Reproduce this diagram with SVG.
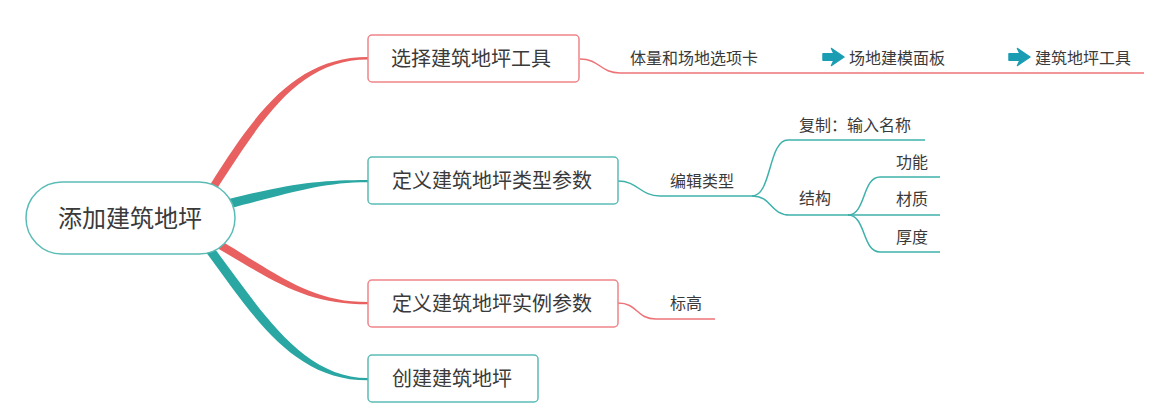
<svg xmlns="http://www.w3.org/2000/svg" width="1154" height="416" viewBox="0 0 1154 416">
<defs>
<style>
.t{font-family:"Noto Sans CJK SC","Noto Sans",sans-serif;fill:#3a3a3a;}
.nt{font-size:20px;text-anchor:middle;}
.st{font-size:16px;}
.rb{fill:#e8605f;}
.tb{fill:#2aa7a3;}
.rl{fill:none;stroke:#ee7378;stroke-width:1.5;}
.tl{fill:none;stroke:#3fb1ab;stroke-width:1.5;}
.rn{fill:#fff;stroke:#ef8489;stroke-width:1.5;}
.tn{fill:#fff;stroke:#5bbcb6;stroke-width:1.5;}
.ar{fill:#1a9db3;stroke:#1a9db3;stroke-width:1.5;stroke-linejoin:round;}
</style>
<path id="arrow" class="ar" d="M 0 -3.2 L 11 -3.2 L 8.5 -8.5 L 21 0 L 8.5 8.5 L 11 3.2 L 0 3.2 Z"/>
</defs>
<rect width="1154" height="416" fill="#fff"/>
<g id="connectors">
<path class="rb" d="M 210.6 183.9 C 258 108, 298 57, 368 57 L 368 59.5 C 302 59.5, 266 112, 217.4 188.1 Z"/>
<path class="tb" d="M 227 199.6 C 290 183.5, 320 180, 368 180 L 368 182.2 C 322 182.2, 292 192.5, 229 208.4 Z"/>
<path class="rb" d="M 222 241.6 C 282 277, 312 302, 368 302 L 368 304.3 C 308 304.3, 278 284, 217.9 248.4 Z"/>
<path class="tb" d="M 213.6 247.3 C 258 305, 300 378, 368 378 L 368 380.3 C 292 380.5, 252 314, 206.4 252.7 Z"/>
<path class="rl" d="M 580 59 C 600 59, 600 73, 620 73 L 1144 73"/>
<path class="tl" d="M 618 181 C 638 181, 640 196, 660 196 L 752 196"/>
<path class="tl" d="M 752 196 C 772 196, 768 140, 788 140 L 925 140"/>
<path class="tl" d="M 752 196 C 772 196, 770 215, 790 215 L 848 215"/>
<path class="tl" d="M 848 215 C 866 215, 862 177, 880 177 L 940 177"/>
<path class="tl" d="M 848 215 L 940 215"/>
<path class="tl" d="M 848 215 C 866 215, 862 252, 880 252 L 940 252"/>
<path class="rl" d="M 618 303 C 638 303, 636 319, 656 319 L 715 319"/>
</g>
<g id="root">
<rect class="tn" x="26" y="182" width="209" height="72" rx="36"/>
<text class="t" x="130" y="227" font-size="24" text-anchor="middle">添加建筑地坪</text>
</g>
<g id="n1">
<rect class="rn" x="368" y="35" width="211" height="47" rx="4"/>
<text class="t nt" x="471" y="66">选择建筑地坪工具</text>
</g>
<g id="n2">
<rect class="tn" x="368" y="157" width="250" height="47" rx="4"/>
<text class="t nt" x="492" y="188">定义建筑地坪类型参数</text>
</g>
<g id="n3">
<rect class="rn" x="368" y="280" width="250" height="47" rx="4"/>
<text class="t nt" x="492" y="311">定义建筑地坪实例参数</text>
</g>
<g id="n4">
<rect class="tn" x="368" y="355" width="170" height="47" rx="4"/>
<text class="t nt" x="452" y="386">创建建筑地坪</text>
</g>
<g id="s1">
<text class="t st" x="630" y="64">体量和场地选项卡</text>
</g>
<g id="s2">
<use href="#arrow" x="823" y="57"/>
<text class="t st" x="849" y="64">场地建模面板</text>
</g>
<g id="s3">
<use href="#arrow" x="1009" y="57"/>
<text class="t st" x="1035" y="64">建筑地坪工具</text>
</g>
<g id="s4"><text class="t st" x="670" y="187">编辑类型</text></g>
<g id="s5"><text class="t st" x="799" y="131">复制：输入名称</text></g>
<g id="s6"><text class="t st" x="799" y="204">结构</text></g>
<g id="s7"><text class="t st" x="896" y="168">功能</text></g>
<g id="s8"><text class="t st" x="896" y="205">材质</text></g>
<g id="s9"><text class="t st" x="896" y="243">厚度</text></g>
<g id="s10"><text class="t st" x="670" y="309">标高</text></g>
</svg>
